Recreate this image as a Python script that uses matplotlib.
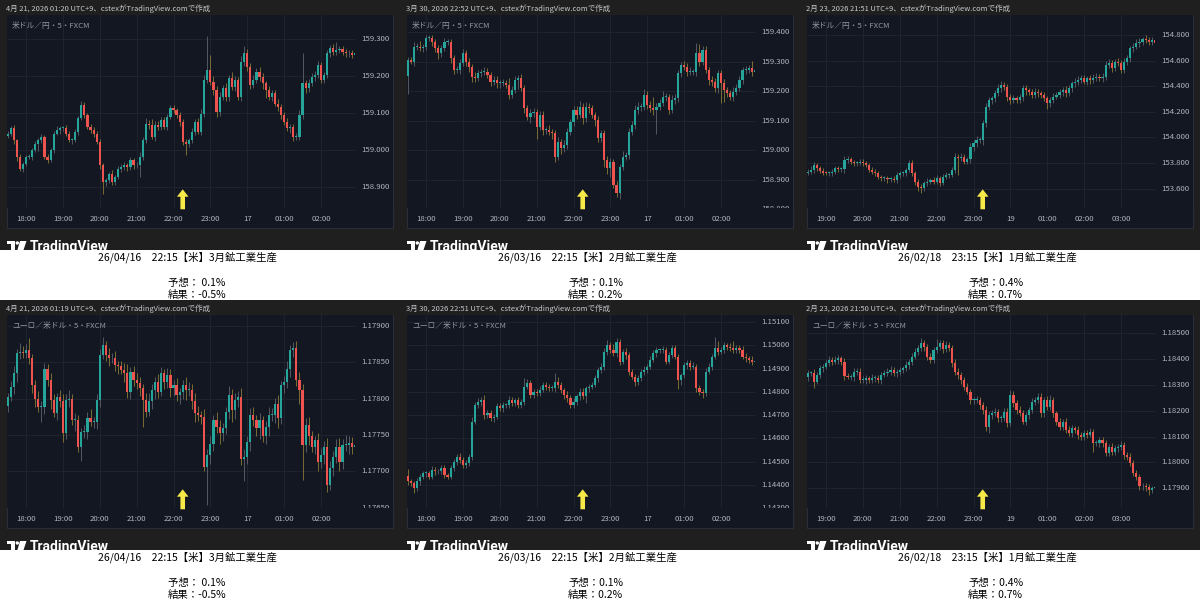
import numpy as np
import matplotlib
matplotlib.use("Agg")
import matplotlib.pyplot as plt
from matplotlib.patches import Rectangle, Polygon, Circle
import matplotlib.transforms as mtransforms

plt.rcParams['font.family'] = ['Noto Sans CJK JP', 'DejaVu Sans']

# ------------------------------------------------------------------ data
# Panel 1: USD/JPY 5min, 2026-04-16 17:30 -> 02:55 (units 0.001 from 159.000)
p1_open0 = 38
p1_close = [45, 59, 27, -18, -50, -36,
            -18, -18, 0, 18, 27, 36, -18, -27, 0, 45, 54, 59,
            59, 45, 27, 27, 50, 86, 122, 95, 63, 54, 45, 23,
            -41, -86, -81, -63, -86, -72, -50, -45, -41, -45, -27, -41,
            -41, -18, 27, 72, 68, 36, 68, 63, 81, 63, 90, 113,
            108, 95, 77, 23, 18, 27, 50, 77, 50, 99, 189, 216,
            185, 162, 104, 144, 167, 144, 194, 171, 189, 144, 239, 261,
            225, 176, 189, 212, 198, 180, 162, 144, 153, 126, 117, 95,
            77, 59, 63, 36, 36, 95, 180, 167, 180, 198, 203, 230,
            189, 203, 261, 275, 266, 270, 272, 266, 261, 261, 257, 261]
p1_hiwick = [6, 5, 8, 4, 7, 5,
             6, 8, 5, 7, 6, 9, 5, 8, 7, 6, 10, 7,
             6, 9, 7, 5, 8, 6, 12, 9, 6, 7, 8, 6,
             8, 6, 7, 5, 9, 6, 8, 7, 10, 6, 8, 7,
             10, 12, 8, 14, 9, 16, 10, 12, 8, 9, 7, 10,
             8, 7, 9, 8, 6, 7, 9, 8, 10, 12, 15, 92,
             40, 14, 10, 12, 9, 14, 10, 16, 12, 9, 14, 21,
             12, 10, 14, 9, 12, 10, 8, 12, 10, 9, 11, 8,
             8, 10, 7, 9, 10, 14, 83, 10, 12, 9, 11, 10,
             8, 9, 10, 8, 12, 21, 10, 8, 7, 9, 8, 7]
p1_lowick = [5, 7, 10, 12, 6, 8,
             6, 5, 8, 6, 20, 7, 5, 8, 6, 7, 5, 9,
             7, 6, 5, 9, 6, 8, 5, 7, 6, 8, 10, 7,
             9, 31, 10, 8, 7, 9, 6, 10, 8, 12, 7, 9,
             8, 30, 9, 8, 12, 7, 10, 8, 9, 6, 8, 7,
             7, 9, 12, 10, 30, 8, 7, 9, 6, 8, 10, 9,
             10, 12, 14, 12, 9, 10, 12, 8, 11, 9, 10, 12,
             10, 12, 9, 8, 10, 14, 20, 9, 10, 8, 12, 10,
             9, 8, 12, 10, 8, 9, 10, 12, 9, 8, 10, 9,
             7, 8, 9, 10, 8, 9, 7, 8, 9, 10, 8, 9]

# Panel 2: USD/JPY 5min, 2026-03-16 (units 0.001 from 159.000)
p2_open0 = 250
p2_close = [305, 300, 350, 350, 345, 350,
            379, 379, 367, 345, 328, 345, 367, 367, 311, 271, 271, 294,
            328, 300, 283, 249, 243, 260, 266, 266, 254, 232, 238, 226,
            226, 226, 221, 187, 204, 238, 243, 209, 141, 113, 125, 130,
            79, 119, 68, 68, 62, 57, -22, 29, 6, 17, 62, 96,
            136, 119, 147, 108, 147, 141, 119, 102, 40, 57, -33, -62,
            -40, -118, -146, -56, -22, -17, 62, 85, 136, 147, 147, 187,
            153, 141, 136, 147, 158, 181, 181, 136, 170, 175, 260, 288,
            283, 266, 266, 266, 328, 300, 339, 271, 238, 232, 209, 260,
            226, 204, 192, 181, 198, 209, 238, 271, 271, 277, 266, 271]
p2_hiwick = [12, 10, 15, 12, 18, 10,
             10, 12, 10, 8, 12, 10, 12, 10, 8, 12, 15, 14,
             15, 10, 12, 10, 14, 12, 10, 15, 12, 10, 14, 12,
             12, 15, 10, 22, 12, 14, 10, 16, 10, 12, 14, 12,
             10, 14, 12, 10, 18, 10, 12, 14, 10, 16, 12, 10,
             12, 14, 20, 12, 16, 14, 12, 10, 14, 12, 10, 12,
             12, 10, 14, 10, 20, 10, 12, 14, 18, 15, 12, 20,
             12, 14, 40, 12, 14, 20, 12, 10, 16, 14, 12, 10,
             14, 12, 16, 10, 34, 30, 14, 12, 10, 14, 12, 10,
             12, 14, 10, 12, 16, 14, 12, 10, 14, 12, 25, 12]
p2_lowick = [60, 10, 15, 12, 10, 12,
             12, 10, 14, 12, 20, 12, 8, 10, 15, 12, 10, 14,
             10, 14, 20, 18, 12, 10, 14, 12, 10, 15, 12, 14,
             14, 10, 12, 15, 10, 12, 30, 10, 14, 12, 20, 12,
             40, 12, 18, 14, 12, 20, 17, 12, 20, 14, 12, 10,
             14, 12, 10, 18, 12, 14, 10, 20, 12, 14, 25, 20,
             30, 10, 14, 18, 10, 12, 14, 10, 12, 14, 16, 10,
             14, 12, 16, 80, 12, 10, 14, 12, 10, 15, 12, 14,
             12, 14, 10, 12, 16, 14, 12, 10, 18, 14, 12, 14,
             65, 40, 12, 10, 14, 12, 10, 14, 12, 10, 14, 12]

# Panel 3: USD/JPY 5min, 2026-02-18 18:30 -> 03:55 (units 0.001 from 154.000)
p3_open0 = -275
p3_close = [-267, -254, -215, -241, -259, -275,
            -280, -280, -267, -241, -249, -249, -176, -171, -189, -202, -202, -189,
            -202, -215, -254, -267, -280, -306, -319, -319, -327, -327, -332, -293,
            -280, -280, -254, -202, -280, -345, -384, -397, -358, -345, -332, -345,
            -319, -353, -306, -293, -293, -254, -150, -163, -150, -189, -171, -72,
            -46, -20, -20, 110, 240, 292, 305, 344, 383, 409, 397, 318,
            292, 305, 292, 318, 383, 370, 357, 331, 357, 344, 331, 305,
            266, 292, 318, 331, 357, 370, 344, 383, 423, 436, 449, 462,
            436, 462, 449, 462, 475, 462, 475, 566, 579, 540, 592, 579,
            527, 592, 618, 696, 709, 735, 748, 766, 761, 748, 761, 735]
p3_hiwick = [20, 30, 25, 15, 20, 18,
             15, 20, 18, 22, 20, 15, 35, 30, 20, 15, 18, 20,
             18, 20, 15, 22, 20, 18, 15, 20, 18, 15, 25, 20,
             20, 18, 15, 30, 25, 20, 18, 22, 20, 25, 18, 20,
             25, 20, 22, 20, 18, 25, 30, 20, 25, 20, 22, 30,
             25, 30, 20, 25, 30, 25, 20, 25, 35, 30, 25, 20,
             25, 30, 20, 25, 30, 25, 20, 25, 30, 25, 20, 25,
             20, 25, 30, 25, 20, 25, 30, 25, 20, 25, 30, 25,
             25, 20, 25, 30, 25, 20, 25, 30, 35, 25, 20, 25,
             25, 30, 25, 20, 25, 30, 25, 20, 30, 25, 20, 25]
p3_lowick = [20, 15, 25, 20, 15, 20,
             15, 20, 18, 15, 20, 22, 25, 20, 15, 20, 18, 15,
             20, 15, 18, 20, 22, 15, 18, 20, 25, 22, 15, 20,
             22, 18, 20, 15, 20, 25, 30, 40, 20, 18, 22, 20,
             20, 25, 18, 22, 20, 18, 25, 130, 22, 20, 18, 25,
             30, 25, 20, 35, 30, 25, 30, 25, 20, 25, 30, 35,
             30, 25, 20, 25, 30, 40, 25, 20, 25, 30, 25, 20,
             45, 30, 25, 20, 25, 30, 25, 20, 25, 30, 25, 20,
             20, 25, 30, 25, 20, 25, 30, 25, 20, 30, 25, 20,
             25, 20, 25, 30, 25, 20, 25, 30, 20, 25, 30, 25]

# Panel 4: EUR/USD 5min, 2026-04-16 (units 0.00001 from 1.17000)
p4_open0 = 790
p4_close = [802, 816, 835, 862, 864, 862,
            867, 855, 818, 800, 789, 789, 841, 825, 798, 780, 802, 796,
            752, 798, 800, 770, 770, 734, 754, 754, 773, 768, 768, 798,
            860, 873, 860, 855, 855, 846, 844, 839, 835, 809, 837, 825,
            821, 814, 798, 782, 796, 812, 823, 809, 835, 823, 832, 814,
            818, 805, 809, 818, 812, 812, 796, 780, 777, 775, 706, 722,
            738, 770, 761, 752, 759, 782, 805, 784, 798, 802, 717, 720,
            740, 777, 770, 759, 770, 748, 761, 777, 777, 793, 773, 818,
            823, 841, 867, 869, 825, 812, 736, 763, 748, 734, 743, 713,
            722, 734, 681, 704, 720, 734, 713, 736, 736, 739, 734, 736]
p4_hiwick = [6, 8, 10, 6, 12, 8,
             8, 16, 6, 8, 10, 7, 8, 6, 10, 8, 6, 10,
             10, 8, 12, 6, 10, 8, 6, 10, 8, 12, 6, 8,
             8, 12, 6, 10, 8, 10, 6, 8, 10, 12, 6, 8,
             10, 8, 6, 10, 12, 8, 6, 10, 8, 6, 10, 8,
             8, 10, 6, 8, 12, 10, 8, 12, 10, 6, 10, 8,
             10, 8, 12, 10, 8, 6, 12, 8, 10, 8, 12, 10,
             8, 10, 12, 8, 10, 6, 8, 12, 10, 8, 12, 6,
             8, 10, 6, 8, 10, 12, 8, 10, 12, 8, 6, 10,
             10, 8, 12, 10, 8, 10, 12, 8, 14, 10, 8, 6]
p4_lowick = [8, 6, 10, 12, 8, 6,
             6, 8, 10, 12, 8, 21, 10, 8, 12, 6, 10, 8,
             12, 8, 10, 6, 14, 8, 20, 8, 10, 6, 8, 10,
             10, 6, 8, 10, 6, 8, 10, 6, 12, 8, 10, 8,
             8, 10, 37, 8, 6, 10, 12, 8, 6, 10, 8, 12,
             10, 8, 12, 10, 14, 8, 10, 12, 8, 10, 6, 52,
             12, 10, 8, 14, 10, 8, 10, 16, 12, 10, 8, 30,
             10, 12, 8, 10, 14, 8, 10, 12, 8, 10, 14, 8,
             10, 8, 12, 10, 8, 20, 48, 10, 12, 8, 10, 12,
             8, 12, 10, 6, 10, 8, 12, 10, 8, 12, 10, 25]

# Panel 5: EUR/USD 5min, 2026-03-16 (units 0.00001 from 1.14000)
p5_open0 = 440
p5_close = [415, 407, 386, 415, 436, 450,
            450, 436, 465, 458, 458, 472, 443, 436, 472, 500, 522, 508,
            486, 493, 522, 672, 744, 758, 765, 701, 708, 686, 694, 737,
            729, 744, 744, 765, 751, 765, 744, 758, 822, 837, 787, 801,
            794, 808, 830, 822, 815, 815, 844, 830, 808, 787, 772, 744,
            758, 780, 801, 780, 815, 822, 830, 858, 894, 908, 973, 1001,
            980, 965, 1016, 930, 973, 958, 887, 865, 844, 858, 887, 894,
            908, 937, 965, 980, 980, 980, 930, 958, 987, 951, 851, 873,
            915, 923, 908, 908, 815, 801, 794, 887, 908, 951, 987, 973,
            980, 1001, 994, 987, 980, 987, 980, 951, 944, 937, 930, 930]
p5_hiwick = [28, 12, 10, 15, 12, 10,
             12, 10, 15, 12, 10, 14, 12, 10, 15, 12, 10, 14,
             12, 15, 10, 22, 14, 15, 12, 20, 14, 12, 10, 15,
             14, 12, 10, 15, 12, 10, 14, 12, 36, 20, 15, 12,
             12, 15, 14, 12, 10, 15, 36, 20, 12, 10, 15, 14,
             14, 12, 15, 14, 12, 10, 12, 14, 12, 15, 14, 22,
             12, 25, 14, 10, 12, 15, 14, 12, 10, 14, 12, 15,
             12, 15, 14, 12, 10, 15, 14, 12, 14, 15, 12, 10,
             14, 12, 15, 20, 12, 14, 12, 15, 14, 12, 50, 30,
             14, 12, 10, 15, 30, 14, 12, 15, 14, 12, 15, 14]
p5_lowick = [15, 12, 21, 10, 14, 12,
             14, 12, 10, 15, 12, 10, 14, 12, 10, 12, 15, 12,
             15, 12, 10, 14, 12, 15, 20, 18, 12, 10, 14, 12,
             12, 14, 15, 12, 10, 14, 12, 15, 14, 12, 15, 14,
             14, 12, 10, 15, 12, 10, 14, 12, 15, 18, 14, 15,
             12, 15, 14, 12, 29, 14, 12, 10, 14, 12, 15, 14,
             14, 12, 15, 14, 12, 18, 15, 12, 20, 14, 12, 15,
             15, 12, 10, 14, 12, 15, 12, 10, 14, 12, 40, 20,
             12, 15, 14, 12, 15, 14, 20, 12, 10, 14, 12, 15,
             12, 15, 14, 12, 15, 14, 12, 10, 14, 15, 14, 16]

# Panel 6: EUR/USD 5min, 2026-02-18 18:30 -> 03:55 (units 0.00001 from 1.18000)
p6_open0 = 330
p6_close = [345, 345, 313, 339, 365, 371,
            384, 397, 390, 397, 403, 390, 335, 332, 332, 352, 352, 319,
            319, 326, 319, 326, 326, 319, 339, 345, 352, 358, 345, 352,
            358, 365, 377, 390, 410, 429, 442, 461, 448, 410, 397, 435,
            448, 461, 438, 455, 442, 384, 352, 339, 319, 294, 274, 242,
            242, 242, 223, 203, 139, 184, 190, 197, 171, 171, 197, 152,
            261, 229, 203, 190, 158, 184, 203, 236, 242, 255, 190, 242,
            216, 242, 190, 158, 139, 158, 126, 113, 132, 126, 107, 100,
            113, 107, 119, 74, 74, 87, 74, 36, 61, 42, 55, 61,
            68, 29, 23, -3, -42, -55, -93, -93, -96, -106, -100, -96]
p6_hiwick = [12, 10, 15, 12, 14, 10,
             12, 14, 10, 15, 12, 10, 14, 12, 10, 15, 12, 14,
             14, 12, 10, 15, 12, 14, 10, 12, 15, 14, 12, 10,
             12, 10, 14, 12, 15, 14, 12, 20, 15, 12, 14, 12,
             30, 15, 12, 14, 10, 12, 15, 14, 12, 10, 14, 12,
             12, 14, 12, 10, 15, 14, 12, 14, 10, 12, 15, 14,
             20, 14, 12, 15, 14, 12, 10, 14, 12, 15, 14, 12,
             14, 20, 12, 10, 14, 12, 15, 14, 12, 10, 14, 12,
             12, 14, 15, 12, 14, 12, 10, 14, 12, 15, 14, 12,
             14, 12, 10, 15, 12, 14, 12, 15, 14, 12, 10, 14]
p6_lowick = [14, 12, 26, 10, 12, 14,
             10, 12, 14, 10, 15, 12, 14, 10, 12, 15, 12, 10,
             12, 14, 12, 10, 14, 12, 15, 10, 12, 14, 12, 15,
             14, 12, 10, 15, 12, 10, 14, 12, 15, 14, 12, 10,
             12, 14, 15, 12, 10, 14, 12, 15, 14, 12, 10, 15,
             14, 12, 15, 14, 18, 25, 14, 12, 15, 14, 12, 14,
             12, 15, 14, 12, 10, 14, 15, 12, 14, 12, 15, 14,
             12, 14, 15, 12, 14, 15, 12, 10, 14, 12, 15, 14,
             14, 12, 10, 32, 12, 14, 15, 12, 10, 14, 12, 15,
             12, 15, 14, 12, 10, 14, 12, 15, 14, 20, 14, 12]

headers = ["4月 21, 2026 01:20 UTC+9、cstexがTradingView.comで作成",
           "3月 30, 2026 22:52 UTC+9、cstexがTradingView.comで作成",
           "2月 23, 2026 21:51 UTC+9、cstexがTradingView.comで作成",
           "4月 21, 2026 01:19 UTC+9、cstexがTradingView.comで作成",
           "3月 30, 2026 22:51 UTC+9、cstexがTradingView.comで作成",
           "2月 23, 2026 21:50 UTC+9、cstexがTradingView.comで作成"]
symbols = ["米ドル／円・5・FXCM", "米ドル／円・5・FXCM", "米ドル／円・5・FXCM",
           "ユーロ／米ドル・5・FXCM", "ユーロ／米ドル・5・FXCM", "ユーロ／米ドル・5・FXCM"]

ticks_usdjpy_apr = [159.300, 159.200, 159.100, 159.000, 158.900]
ticks_usdjpy_mar = [159.400, 159.300, 159.200, 159.100, 159.000, 158.900, 158.800]
ticks_usdjpy_feb = [154.800, 154.600, 154.400, 154.200, 154.000, 153.800, 153.600]
ticks_eurusd_apr = [1.17900, 1.17850, 1.17800, 1.17750, 1.17700, 1.17650]
ticks_eurusd_mar = [1.15100, 1.15000, 1.14900, 1.14800, 1.14700, 1.14600, 1.14500, 1.14400, 1.14300]
ticks_eurusd_feb = [1.18500, 1.18400, 1.18300, 1.18200, 1.18100, 1.18000, 1.17900]

hours_a = [18, 19, 20, 21, 22, 23, 24, 25, 26]
labels_a = ["18:00", "19:00", "20:00", "21:00", "22:00", "23:00", "17", "01:00", "02:00"]
hours_b = [19, 20, 21, 22, 23, 24, 25, 26, 27]
labels_b = ["19:00", "20:00", "21:00", "22:00", "23:00", "19", "01:00", "02:00", "03:00"]

cap_line1 = ["26/04/16　22:15【米】3月鉱工業生産",
             "26/03/16　22:15【米】2月鉱工業生産",
             "26/02/18　23:15【米】1月鉱工業生産"]
cap_line2 = ["予想： 0.1%", "予想：0.1%", "予想：0.4%"]
cap_line3 = ["結果：-0.5%", "結果：0.2%", "結果：0.7%"]
event_hour = [22.25, 22.25, 23.25]

# ------------------------------------------------------------------ panel setup
panels = [
    dict(close=p1_close, hi=p1_hiwick, lo=p1_lowick, open0=p1_open0, base=159.0, unit=0.001,
         start=17.5, ticks=ticks_usdjpy_apr, fmt="%.3f", ylim=(158.8442, 159.3647),
         hours=hours_a, hlabels=labels_a, col=0, row=0),
    dict(close=p2_close, hi=p2_hiwick, lo=p2_lowick, open0=p2_open0, base=159.0, unit=0.001,
         start=17.5, ticks=ticks_usdjpy_mar, fmt="%.3f", ylim=(158.804, 159.4576),
         hours=hours_a, hlabels=labels_a, col=1, row=0),
    dict(close=p3_close, hi=p3_hiwick, lo=p3_lowick, open0=p3_open0, base=154.0, unit=0.001,
         start=18.5, ticks=ticks_usdjpy_feb, fmt="%.3f", ylim=(153.4495, 154.956),
         hours=hours_b, hlabels=labels_b, col=2, row=0),
    dict(close=p4_close, hi=p4_hiwick, lo=p4_lowick, open0=p4_open0, base=1.17, unit=0.00001,
         start=17.5, ticks=ticks_eurusd_apr, fmt="%.5f", ylim=(1.176496, 1.179147),
         hours=hours_a, hlabels=labels_a, col=0, row=1),
    dict(close=p5_close, hi=p5_hiwick, lo=p5_lowick, open0=p5_open0, base=1.14, unit=0.00001,
         start=17.5, ticks=ticks_eurusd_mar, fmt="%.5f", ylim=(1.14301, 1.1513),
         hours=hours_a, hlabels=labels_a, col=1, row=1),
    dict(close=p6_close, hi=p6_hiwick, lo=p6_lowick, open0=p6_open0, base=1.18, unit=0.00001,
         start=18.5, ticks=ticks_eurusd_feb, fmt="%.5f", ylim=(1.178237, 1.185709),
         hours=hours_b, hlabels=labels_b, col=2, row=1),
]

W, H = 1200, 600
OUTER = '#1f1f1f'
PANE = '#131722'
BORDER = '#2a2e39'
GRID = '#1f232e'
TXT = '#b2b5be'
UP = '#26a69a'
DOWN = '#ef5350'
UPWICK = '#5f636e'
DNWICK = '#8a7a34'
ARROW = '#f7ea48'

fig = plt.figure(figsize=(12, 6), dpi=100)
fig.patch.set_facecolor('white')

bg = fig.add_axes([0, 0, 1, 1], zorder=0)
bg.set_xlim(0, W); bg.set_ylim(H, 0); bg.axis('off')
cap = fig.add_axes([0, 0, 1, 1], zorder=5)
cap.set_xlim(0, W); cap.set_ylim(H, 0); cap.axis('off')


def px_axes(x0, y0, w, h, z):
    return fig.add_axes([x0 / W, 1 - (y0 + h) / H, w / W, h / H], zorder=z)


PANE_L, PANE_T, PANE_W, PANE_H = 7, 15, 348, 193
PX_PER_HOUR = 36.875

for k, p in enumerate(panels):
    X0 = 400 * p['col']
    Y0 = 300 * p['row']
    # outer dark frame and inner chart box
    bg.add_patch(Rectangle((X0, Y0), 400, 250, facecolor=OUTER, edgecolor='none'))
    bg.add_patch(Rectangle((X0 + 7, Y0 + 15), 386, 213, facecolor=PANE,
                           edgecolor=BORDER, linewidth=0.8))
    bg.text(X0 + 6, Y0 + 8.5, headers[k], fontsize=5.4, color='#c8cad0',
            ha='left', va='center')
    h0 = p['hours'][0] - (26 - PANE_L) / PX_PER_HOUR
    xlim = (h0, h0 + PANE_W / PX_PER_HOUR)

    ax = px_axes(X0 + PANE_L, Y0 + PANE_T, PANE_W, PANE_H, 1)
    ax.set_facecolor(PANE)
    for s in ax.spines.values():
        s.set_visible(False)
    ax.set_xticks([]); ax.set_yticks([])
    ax.set_xlim(*xlim)
    ax.set_ylim(*p['ylim'])
    for hh in p['hours']:
        ax.axvline(hh, color=GRID, lw=0.8, zorder=0)
    for tv in p['ticks']:
        ax.axhline(tv, color=GRID, lw=0.8, zorder=0)

    n = min(len(p['close']), len(p['hi']), len(p['lo']))
    c = p['base'] + np.asarray(p['close'][:n], float) * p['unit']
    o = np.concatenate([[p['base'] + p['open0'] * p['unit']], c[:-1]])
    hi = np.maximum(o, c) + np.asarray(p['hi'][:n], float) * p['unit']
    lo = np.minimum(o, c) - np.asarray(p['lo'][:n], float) * p['unit']
    t = p['start'] + np.arange(n) * 5 / 60.0
    up = c >= o
    minh = (p['ylim'][1] - p['ylim'][0]) / PANE_H * 0.9
    body_bot = np.minimum(o, c)
    body_h = np.maximum(np.abs(c - o), minh)
    wick_cols = [UPWICK if u else DNWICK for u in up]
    body_cols = [UP if u else DOWN for u in up]
    ax.vlines(t, lo, hi, colors=wick_cols, linewidth=0.6, zorder=2)
    ax.bar(t, body_h, bottom=body_bot, width=0.7 * 5 / 60.0, color=body_cols,
           linewidth=0, zorder=3, align='center')

    ax.text(5 / PANE_W, 1 - 11 / PANE_H, symbols[k], transform=ax.transAxes,
            fontsize=5.6, color='#9598a1', ha='left', va='center', zorder=6)

    # event arrow
    ev = event_hour[p['col']]
    tr = mtransforms.blended_transform_factory(ax.transData, ax.transAxes)
    hw = 2.3 / PX_PER_HOUR
    hh_ = 5.8 / PX_PER_HOUR
    yb = (PANE_H - 209.3 + PANE_T) / PANE_H
    yh = (PANE_H - 196.7 + PANE_T) / PANE_H
    yt = (PANE_H - 189.3 + PANE_T) / PANE_H
    arrow = Polygon([(ev - hw, yb), (ev + hw, yb), (ev + hw, yh), (ev + hh_, yh),
                     (ev, yt), (ev - hh_, yh), (ev - hw, yh)], closed=True,
                    facecolor=ARROW, edgecolor='none', transform=tr,
                    clip_on=False, zorder=8)
    ax.add_patch(arrow)

    # price scale
    pax = px_axes(X0 + 355, Y0 + PANE_T, 38, PANE_H, 1)
    pax.set_facecolor(PANE)
    for s in pax.spines.values():
        s.set_visible(False)
    pax.set_xticks([]); pax.set_yticks([])
    pax.set_xlim(0, 1); pax.set_ylim(*p['ylim'])
    for tv in p['ticks']:
        pax.text(6 / 38, tv, p['fmt'] % tv, fontsize=5.6, color=TXT,
                 ha='left', va='center', clip_on=True)

    # time labels
    for hh, lab in zip(p['hours'], p['hlabels']):
        xpx = X0 + PANE_L + (hh - xlim[0]) / (xlim[1] - xlim[0]) * PANE_W
        bg.text(xpx, Y0 + 219, lab, fontsize=5.6, color=TXT, ha='center', va='center')

    # TradingView logo (cut by caption strip)
    bg.add_patch(Rectangle((X0 + 7, Y0 + 241), 7.5, 3.2, facecolor='white', edgecolor='none'))
    bg.add_patch(Rectangle((X0 + 11, Y0 + 241), 3.5, 12, facecolor='white', edgecolor='none'))
    bg.add_patch(Circle((X0 + 17.3, Y0 + 243), 1.7, facecolor='white', edgecolor='none'))
    bg.add_patch(Polygon([(X0 + 20, Y0 + 241), (X0 + 26.5, Y0 + 241), (X0 + 22.5, Y0 + 253),
                          (X0 + 16.5, Y0 + 253)], closed=True, facecolor='white', edgecolor='none'))
    bg.text(X0 + 30, Y0 + 240.5, "TradingView", fontsize=10, fontweight='bold',
            color='white', ha='left', va='top', family=['Roboto', 'DejaVu Sans'])

# caption strips
for r in range(2):
    Y0 = 300 * r
    cap.add_patch(Rectangle((0, Y0 + 250), W, 50, facecolor='white', edgecolor='none'))
    for col in range(3):
        X0 = 400 * col
        cap.text(X0 + 187.5, Y0 + 257, cap_line1[col], fontsize=7.5, color='black',
                 ha='center', va='center')
        cap.text(X0 + 168, Y0 + 283, cap_line2[col], fontsize=7.5, color='black',
                 ha='left', va='center')
        cap.text(X0 + 168, Y0 + 294.5, cap_line3[col], fontsize=7.5, color='black',
                 ha='left', va='center')

fig.savefig('out.png', dpi=100, facecolor='white')
